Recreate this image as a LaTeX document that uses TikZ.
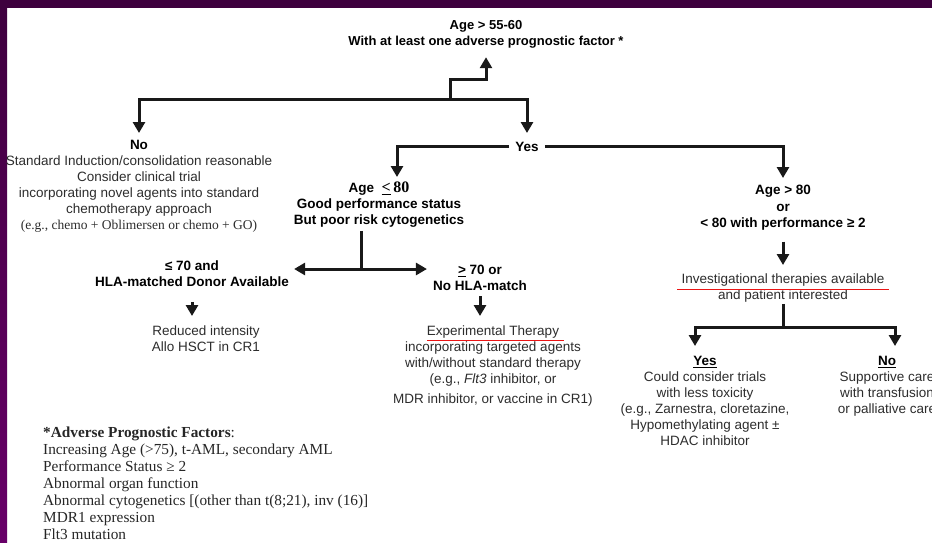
\documentclass[tikz,border=0pt]{standalone}
\usepackage{fontspec}
\setmainfont{Liberation Sans}
\newfontfamily\serifo{Liberation Serif}
\usetikzlibrary{arrows.meta,positioning,calc}
\definecolor{slidePurple}  {RGB}{62,   0,  62}
\definecolor{slideMagenta} {RGB}{104,  0, 104}
\definecolor{markRed}      {RGB}{235, 20,  20}
\definecolor{inkGray}      {RGB}{45,  45,  45}

\begin{document}
\begin{tikzpicture}[x=1pt,y=-1pt,
    txt/.style={align=center,anchor=north,inner sep=0pt,text=inkGray,
      font=\fontsize{13.5}{16}\selectfont},
    btxt/.style={txt,text=black,font=\fontsize{13.5}{16.5}\selectfont\bfseries},
    flow/.style={draw=black!90,line width=3pt,
      -{Triangle[length=11pt,width=12pt]}},
    bar/.style={draw=black!90,line width=3pt}]
  \useasboundingbox (0,0) rectangle (932,542);
  % Moldura
  \fill[white] (0,0) rectangle (932,542);
  \fill[top color=slidePurple,bottom color=slideMagenta] (0,0) rectangle (7,542);
  \fill[slidePurple] (0,0) rectangle (932,8);

  % Textos
  \node[btxt,font=\fontsize{13}{16}\selectfont\bfseries] (top) at (486,20)
    {Age > 55-60\\With at least one adverse prognostic factor *};
  \node[txt] (no) at (139,140)
    {\textcolor{black}{\bfseries No}\\Standard Induction/consolidation reasonable\\
     Consider clinical trial\\incorporating novel agents into standard\\
     chemotherapy approach\\{\serifo (e.g., chemo + Oblimersen or chemo + GO)}};
  \node[btxt] (yes) at (527,142) {Yes};
  \node[btxt] (low) at (379,182)
    {Age\ \ {\serifo\fontsize{16}{16}\selectfont\underline{<}\,80}\\[-1pt]
     Good performance status\\But poor risk cytogenetics};
  \node[btxt] (old) at (783,185)
    {Age > 80\\or\\< 80 with performance ≥ 2};
  \node[btxt] (hla) at (192,261)
    {≤ 70 and\\[-1pt]HLA-matched Donor Available};
  \node[btxt] (nohla) at (480,265)
    {\underline{>} 70 or\\[-1pt]No HLA-match};
  \node[txt] (reduced) at (206,326) {Reduced intensity\\Allo HSCT in CR1};
  \node[txt] (exper) at (493,326)
    {Experimental Therapy\\incorporating targeted agents\\
     with/without standard therapy\\(e.g., \textit{Flt3} inhibitor, or\\[4pt]
     MDR inhibitor, or vaccine in CR1)};
  \node[txt] (invest) at (783,274)
    {Investigational therapies available\\and patient interested};
  \node[txt] (trials) at (705,356)
    {\textcolor{black}{\bfseries\underline{Yes}}\\Could consider trials\\
     with less toxicity\\(e.g., Zarnestra, cloretazine,\\
     Hypomethylating agent ±\\HDAC inhibitor};
  \node[txt] (support) at (887,356)
    {\textcolor{black}{\bfseries\underline{No}}\\Supportive care\\
     with transfusion\\or palliative care};
  \node[txt,align=left,anchor=north west,text=black!85,
        font=\serifo\fontsize{15.3}{17}\selectfont] (factors) at (43,427)
    {\textbf{*Adverse Prognostic Factors}:\\
     Increasing Age (>75), t-AML, secondary AML\\
     Performance Status ≥ 2\\Abnormal organ function\\
     Abnormal cytogenetics [(other than t(8;21), inv (16)]\\
     MDR1 expression\\Flt3 mutation};

  % Ligacoes
  \coordinate (split) at (450,99);
  \coordinate (jog) at (486,79);
  \draw[flow,shorten >=9pt] (split) |- (jog) -- (top.south);
  \draw[flow,shorten >=7pt] (split) -| (no.north);
  \draw[flow,shorten >=9pt] (split) -| (yes.north);

  \coordinate (lowin) at (397,177);
  \draw[flow,shorten <=6pt] (yes.west) -| (lowin);
  \draw[flow,shorten <=6pt,shorten >=7pt] (yes.east) -| (old.north);

  \coordinate (fork) at (361,269);
  \draw[bar,shorten <=3pt] (low.south -| fork) -- (fork);
  \draw[flow,shorten >=5pt] (fork) -- (fork -| hla.east);
  \draw[flow,shorten >=6pt] (fork) -- (fork -| nohla.west);

  \foreach \src/\dst/\gapa/\gapb in {hla/reduced/15/10,nohla/exper/6/10,
                                     old/invest/11/9}{
    \draw[flow,shorten <=\gapa pt,shorten >=\gapb pt]
      (\src.south) -- (\src.south |- \dst.north);
  }

  \coordinate (fork2) at (783,327);
  \coordinate (yesin) at (695,346);
  \coordinate (noin) at (895,346);
  \draw[bar,shorten <=1pt] (invest.south) -- (fork2);
  \draw[flow] (fork2) -| (yesin);
  \draw[flow] (fork2) -| (noin);

  % Marcas vermelhas
  \draw[markRed,line width=1pt] (427,340) -- (564,340);
  \draw[markRed,line width=1pt] (677,289) -- (889,289);
\end{tikzpicture}
\end{document}
